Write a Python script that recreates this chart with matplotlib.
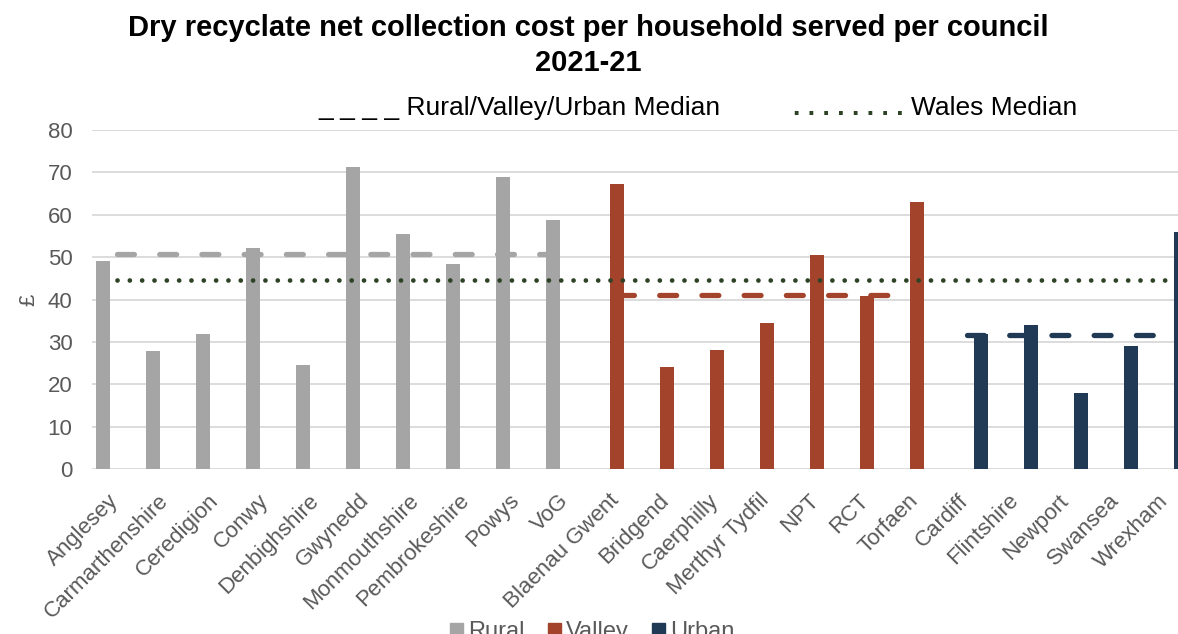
import numpy as np
import matplotlib
matplotlib.use('Agg')
import matplotlib.pyplot as plt
import matplotlib.transforms as mtransforms
from matplotlib.patches import Patch

plt.rcParams['font.family'] = ['Liberation Sans', 'DejaVu Sans']

# councils, grouped rural / valley / urban
councils = ['Anglesey', 'Carmarthenshire', 'Ceredigion', 'Conwy', 'Denbighshire',
            'Gwynedd', 'Monmouthshire', 'Pembrokeshire', 'Powys', 'VoG',
            'Blaenau Gwent', 'Bridgend', 'Caerphilly', 'Merthyr Tydfil', 'NPT',
            'RCT', 'Torfaen', 'Cardiff', 'Flintshire', 'Newport', 'Swansea', 'Wrexham']
groups = ['Rural'] * 10 + ['Valley'] * 7 + ['Urban'] * 5

# net cost per household served (GBP)
costs = [49.1, 27.9, 31.8, 52.2, 24.6, 71.3, 55.4, 48.3, 68.9, 58.7,
         67.3, 24.0, 28.1, 34.5, 50.6, 40.9, 63.0,
         31.8, 33.9, 17.9, 29.0, 56.0]

group_names = ['Rural', 'Valley', 'Urban']
group_medians = [50.7, 41.0, 31.6]
wales_median = 44.6

group_colours = {'Rural': '#A5A5A5', 'Valley': '#A3432B', 'Urban': '#203A55'}
green = '#2E4226'
grey_text = '#595959'


def main():
	fig = plt.figure(figsize=(11.78, 6.34), dpi=100)
	ax = fig.add_axes([92 / 1178, 1 - 469.3 / 634, 1086 / 1178, 339.6 / 634])

	x = np.arange(len(councils))
	groups_arr = np.array(groups)
	costs_arr = np.array(costs)
	w = 0.28

	# each group is its own series so bars sit in different slots
	for k, g in enumerate(group_names):
		vals = np.where(groups_arr == g, costs_arr, 0)
		ax.bar(x + (k - 1) * w, vals, width=w, color=group_colours[g], zorder=2)

	# group medians (dashed) over the councils in that group
	for g, med in zip(group_names, group_medians):
		idx = x[groups_arr == g]
		ax.plot(idx, np.full(len(idx), med), color=group_colours[g], lw=3.8,
				dashes=(3.2, 4.8), dash_capstyle='round', zorder=3)

	# wales median (dotted)
	ax.plot(x, np.full(len(x), wales_median), color=green, lw=3.4,
			dashes=(0.01, 2.6), dash_capstyle='round', zorder=4)

	ax.set_ylim(0, 80)
	ax.set_xlim(-0.5, -0.5 + 1086 / 50)
	ax.set_yticks(np.arange(0, 81, 10))
	ax.yaxis.grid(True, color='#D9D9D9', lw=1.3)
	ax.set_axisbelow(True)
	for s in ax.spines.values():
		s.set_visible(False)
	ax.tick_params(axis='both', length=0, colors=grey_text, labelsize=16)
	ax.tick_params(axis='y', pad=14)
	ax.tick_params(axis='x', pad=15, labelsize=16)
	ax.set_xticks(x)
	ax.set_xticklabels(councils, rotation=45, ha='right')
	# nudge the slanted labels a little to the right, like excel does
	shift = mtransforms.ScaledTranslation(6 / 100, 0, fig.dpi_scale_trans)
	for lab in ax.get_xticklabels():
		lab.set_transform(lab.get_transform() + shift)
	ax.set_ylabel('£', fontsize=16, color=grey_text, labelpad=6)

	# title
	fig.text(0.499, 1 - 36 / 634, 'Dry recyclate net collection cost per household served per council',
			 ha='center', va='baseline', fontsize=21, fontweight='bold')
	fig.text(0.499, 1 - 71 / 634, '2021-21', ha='center', va='baseline', fontsize=21, fontweight='bold')

	# top legend (typed as text in the original)
	fig.text(318 / 1178, 1 - 115 / 634, '_ _ _ _ Rural/Valley/Urban Median', ha='left', va='baseline', fontsize=19)
	fig.text(793 / 1178, 1 - 115 / 634, '. . . . . . . .', ha='left', va='baseline', fontsize=19,
			 color=green, fontweight='bold')
	fig.text(911 / 1178, 1 - 115 / 634, 'Wales Median', ha='left', va='baseline', fontsize=19)

	# bottom legend
	handles = [Patch(color=group_colours[g], label=g) for g in group_names]
	leg = fig.legend(handles=handles, loc='center', bbox_to_anchor=(0.503, 1 - 632 / 634), ncol=3,
					 frameon=False, fontsize=17, handlelength=0.55, handleheight=0.55,
					 handletextpad=0.2, columnspacing=1.0)
	for t in leg.get_texts():
		t.set_color(grey_text)

	fig.savefig('out.png', dpi=100)


if __name__ == '__main__':
	main()
